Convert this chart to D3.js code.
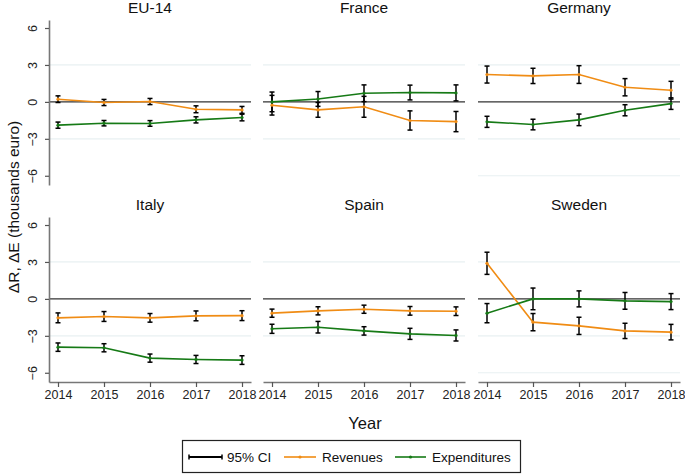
<!DOCTYPE html>
<html>
<head>
<meta charset="utf-8">
<script src="https://cdn.jsdelivr.net/npm/d3@7"></script>
<style>
  body { margin: 0; background: #fff; }
  svg { font-family: "Liberation Sans", Arial, sans-serif; }
</style>
</head>
<body>
<div class="chart"></div>
<script>
// Data
const years = [2014, 2015, 2016, 2017, 2018];
const panels = ["EU-14", "France", "Germany", "Italy", "Spain", "Sweden"];
const yTicks = [-6, -3, 0, 3, 6];

const revenues = [
    [0.22, -0.05, 0.03, -0.6, -0.65],
    [-0.27, -0.65, -0.4, -1.51, -1.6],
    [2.22, 2.11, 2.22, 1.19, 0.95],
    [-1.54, -1.43, -1.54, -1.38, -1.36],
    [-1.16, -0.97, -0.84, -0.97, -1.0],
    [2.89, -1.89, -2.19, -2.6, -2.7]
];
const revenuesCI = [
    [0.27, 0.25, 0.25, 0.28, 0.28],
    [0.8, 0.6, 0.85, 0.78, 0.82],
    [0.69, 0.62, 0.72, 0.7, 0.72],
    [0.4, 0.4, 0.35, 0.4, 0.4],
    [0.33, 0.33, 0.33, 0.35, 0.35],
    [0.9, 0.7, 0.7, 0.62, 0.63]
];
const expenditures = [
    [-1.89, -1.73, -1.75, -1.46, -1.27],
    [0.0, 0.24, 0.7, 0.76, 0.73],
    [-1.62, -1.84, -1.46, -0.68, -0.14],
    [-3.92, -3.97, -4.81, -4.92, -4.97],
    [-2.43, -2.3, -2.6, -2.84, -2.97],
    [-1.16, 0.0, 0.0, -0.16, -0.22]
];
const expendituresCI = [
    [0.25, 0.22, 0.23, 0.25, 0.27],
    [0.8, 0.6, 0.68, 0.6, 0.65],
    [0.45, 0.43, 0.47, 0.45, 0.47],
    [0.34, 0.33, 0.33, 0.33, 0.35],
    [0.37, 0.47, 0.34, 0.45, 0.45],
    [0.78, 0.88, 0.65, 0.68, 0.65]
];

const seriesNames = ["95% CI", "Revenues", "Expenditures"];
const seriesColors = ["#000000", "#f08c14", "#167a16"];

const W = 685, H = 474;
const panelLeft = [49, 263, 478];
const panelWidth = 202;
const rowTop = [20, 217];
const panelHeight = 165;

const svg = d3.select(".chart").append("svg")
    .attr("width", W)
    .attr("height", H);

const series = [
    { name: "Revenues", values: revenues, ci: revenuesCI, color: seriesColors[1] },
    { name: "Expenditures", values: expenditures, ci: expendituresCI, color: seriesColors[2] }
];

panels.forEach((name, i) => {
    const col = i % 3, row = Math.floor(i / 3);
    const g = svg.append("g")
        .attr("transform", "translate(" + panelLeft[col] + "," + rowTop[row] + ")");

    const x = d3.scaleLinear()
        .domain([2014 - 9 / 46, 2018 + 9 / 46])
        .range([0, panelWidth]);
    const y = d3.scaleLinear()
        .domain([-6.75, 6.65])
        .range([panelHeight, 0]);

    // grid lines
    const grid = col === 2 ? [3, -3, -6] : [3, -3];
    g.selectAll(".grid").data(grid).enter().append("line")
        .attr("x1", 0).attr("x2", panelWidth)
        .attr("y1", d => y(d)).attr("y2", d => y(d))
        .attr("stroke", "#e8f0f2").attr("stroke-width", 1.2);

    // zero line
    g.append("line")
        .attr("x1", 0).attr("x2", panelWidth)
        .attr("y1", y(0)).attr("y2", y(0))
        .attr("stroke", "#333").attr("stroke-width", 1.1);

    // title
    g.append("text")
        .attr("x", panelWidth / 2)
        .attr("y", -7.5)
        .attr("text-anchor", "middle")
        .attr("font-size", 15.5)
        .attr("fill", "#111")
        .text(name);

    // y axis on left column
    if (col === 0) {
        const ya = g.append("g").call(d3.axisLeft(y).tickValues(yTicks).tickSize(4).tickSizeOuter(0));
        ya.select(".domain").attr("stroke", "#777").attr("stroke-width", 1.6);
        ya.selectAll(".tick line").attr("stroke", "#555").attr("stroke-width", 1.2);
        ya.selectAll(".tick text")
            .attr("transform", "rotate(-90)")
            .attr("x", 0).attr("y", -12).attr("dy", 0)
            .attr("text-anchor", "middle")
            .attr("font-size", 12.5)
            .attr("fill", "#222");
    }

    // x axis on bottom row
    if (row === 1) {
        const xa = g.append("g")
            .attr("transform", "translate(0," + panelHeight + ")")
            .call(d3.axisBottom(x).tickValues(years).tickFormat(d3.format("d")).tickSize(5).tickSizeOuter(0));
        xa.select(".domain").attr("stroke", "#777").attr("stroke-width", 1.6);
        xa.selectAll(".tick line").attr("stroke", "#555").attr("stroke-width", 1.2);
        xa.selectAll(".tick text")
            .attr("y", 8)
            .attr("font-size", 12.5)
            .attr("fill", "#222");
    }

    // confidence intervals
    series.forEach(s => {
        const pts = years.map((yr, j) => ({ yr, v: s.values[i][j], h: s.ci[i][j] }));
        const ci = g.append("g").attr("stroke", "#000").attr("stroke-width", 1.5);
        ci.selectAll(".bar").data(pts).enter().append("line")
            .attr("x1", d => x(d.yr)).attr("x2", d => x(d.yr))
            .attr("y1", d => y(d.v - d.h)).attr("y2", d => y(d.v + d.h));
        ci.selectAll(".capTop").data(pts).enter().append("line")
            .attr("x1", d => x(d.yr) - 2.5).attr("x2", d => x(d.yr) + 2.5)
            .attr("y1", d => y(d.v + d.h)).attr("y2", d => y(d.v + d.h));
        ci.selectAll(".capBot").data(pts).enter().append("line")
            .attr("x1", d => x(d.yr) - 2.5).attr("x2", d => x(d.yr) + 2.5)
            .attr("y1", d => y(d.v - d.h)).attr("y2", d => y(d.v - d.h));
    });

    // series lines
    series.forEach(s => {
        const pts = years.map((yr, j) => ({ yr, v: s.values[i][j] }));
        g.append("path")
            .datum(pts)
            .attr("fill", "none")
            .attr("stroke", s.color)
            .attr("stroke-width", 1.6)
            .attr("d", d3.line().x(d => x(d.yr)).y(d => y(d.v)));
        g.selectAll(".pt-" + s.name).data(pts).enter().append("circle")
            .attr("cx", d => x(d.yr)).attr("cy", d => y(d.v))
            .attr("r", 1.6)
            .attr("fill", s.color);
    });
});

// axis titles
svg.append("text")
    .attr("transform", "translate(19,207) rotate(-90)")
    .attr("text-anchor", "middle")
    .attr("font-size", 15.5)
    .attr("fill", "#111")
    .text("ΔR, ΔE (thousands euro)");

svg.append("text")
    .attr("x", 365).attr("y", 429)
    .attr("text-anchor", "middle")
    .attr("font-size", 16.5)
    .attr("fill", "#111")
    .text("Year");

// legend
const legend = svg.append("g");
legend.append("rect")
    .attr("x", 182.5).attr("y", 440.5)
    .attr("width", 338).attr("height", 32)
    .attr("fill", "#fff").attr("stroke", "#222").attr("stroke-width", 1.2);

const legendItems = [
    { x1: 189, x2: 222, tx: 227 },
    { x1: 284, x2: 316, tx: 322 },
    { x1: 395, x2: 426, tx: 432 }
];
legendItems.forEach((it, k) => {
    legend.append("line")
        .attr("x1", it.x1).attr("x2", it.x2)
        .attr("y1", 457).attr("y2", 457)
        .attr("stroke", seriesColors[k]).attr("stroke-width", k === 0 ? 2 : 1.6);
    if (k === 0) {
        [it.x1, it.x2].forEach(cx => legend.append("line")
            .attr("x1", cx).attr("x2", cx).attr("y1", 454.5).attr("y2", 459.5)
            .attr("stroke", "#000").attr("stroke-width", 1.5));
    } else {
        legend.append("circle")
            .attr("cx", (it.x1 + it.x2) / 2).attr("cy", 457).attr("r", 1.6)
            .attr("fill", seriesColors[k]);
    }
    legend.append("text")
        .attr("x", it.tx).attr("y", 461.5)
        .attr("font-size", 13.5)
        .attr("fill", "#111")
        .text(seriesNames[k]);
});
</script>
</body>
</html>
